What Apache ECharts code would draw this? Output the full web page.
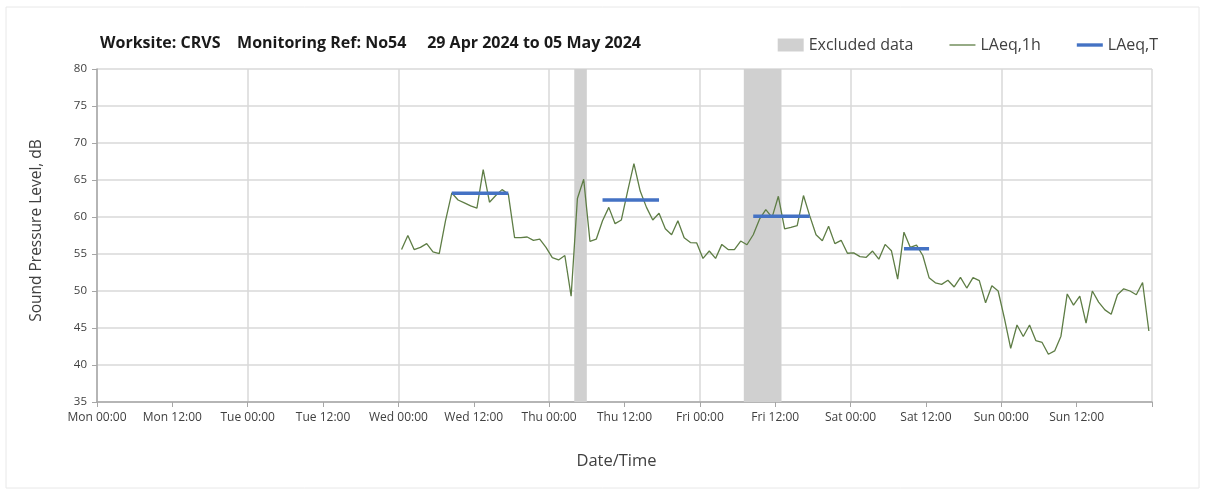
<!DOCTYPE html>
<html lang="en">
<head>
    <meta charset="UTF-8">
    <title>Noise monitoring</title>
    <style>
        html, body { margin: 0; padding: 0; background: #fff; }
        #chart { width: 1205px; height: 492px; }
    </style>
</head>
<body>
<div id="chart"></div>
<script src="https://cdn.jsdelivr.net/npm/echarts@6/dist/echarts.min.js"></script>
<script>
    // hours from Mon 00:00, one tick label every 12 h
    var tickLabels = ['Mon 00:00', 'Mon 12:00', 'Tue 00:00', 'Tue 12:00', 'Wed 00:00', 'Wed 12:00',
        'Thu 00:00', 'Thu 12:00', 'Fri 00:00', 'Fri 12:00', 'Sat 00:00', 'Sat 12:00',
        'Sun 00:00', 'Sun 12:00', ''];

    // LAeq,1h - hourly values, first one centred on Wed 00:30
    var firstHour = 48.5;
    var laeq1h = [
        55.6, 57.5, 55.6, 55.9, 56.4, 55.3, 55.05, 59.5, 63.25, 62.3,
        61.9, 61.5, 61.2, 66.4, 62.0, 62.9, 63.7, 63.1, 57.2, 57.2,
        57.3, 56.85, 57.0, 55.9, 54.5, 54.2, 54.8, 49.3, 62.5, 65.1,
        56.7, 57.0, 59.5, 61.3, 59.1, 59.6, 63.5, 67.2, 63.5, 61.3,
        59.6, 60.5, 58.4, 57.6, 59.5, 57.2, 56.55, 56.5, 54.4, 55.4,
        54.4, 56.3, 55.6, 55.6, 56.75, 56.25, 57.6, 59.7, 61.0, 59.95,
        62.8, 58.4, 58.6, 58.85, 62.9, 60.15, 57.6, 56.8, 58.75, 56.4,
        56.85, 55.1, 55.15, 54.65, 54.55, 55.4, 54.3, 56.3, 55.45, 51.6,
        57.95, 55.9, 56.2, 54.8, 51.8, 51.1, 50.9, 51.45, 50.55, 51.85,
        50.4, 51.8, 51.4, 48.4, 50.7, 50.0, 46.3, 42.25, 45.4, 43.85,
        45.4, 43.3, 43.05, 41.45, 41.9, 43.9, 49.6, 48.1, 49.3, 45.65,
        50.0, 48.5, 47.45, 46.85, 49.5, 50.3, 50.0, 49.5, 51.15, 44.6
    ];

    // LAeq,T periods
    var periodStart = [56.5, 80.5, 104.5, 128.5];
    var periodEnd = [65.5, 89.5, 113.5, 132.5];
    var periodLevel = [63.2, 62.3, 60.1, 55.7];

    // excluded data bands (hours)
    var excludedStart = [76, 103];
    var excludedEnd = [78, 109];

    var lineData = [];
    for (var i = 0; i < laeq1h.length; i++) {
        lineData.push([firstHour + i, laeq1h[i]]);
    }
    var periodData = [];
    for (var j = 0; j < periodStart.length; j++) {
        periodData.push([periodStart[j], periodLevel[j]]);
        periodData.push([periodEnd[j], periodLevel[j]]);
        periodData.push([periodEnd[j], '-']);
    }
    var bands = [];
    for (var k = 0; k < excludedStart.length; k++) {
        bands.push([{xAxis: excludedStart[k]}, {xAxis: excludedEnd[k]}]);
    }

    // legend line icons: stripe inside a 200x100 box (the moveTo corners keep the box 2:1)
    var thinIcon = 'path://M0,0 M200,100 M0,45 L200,45 L200,55 L0,55 Z';
    var thickIcon = 'path://M0,0 M200,100 M0,37 L200,37 L200,63 L0,63 Z';

    var font = 'Open Sans, Noto Sans, sans-serif';
    var chart = echarts.init(document.getElementById('chart'));
    chart.setOption({
        animation: false,
        textStyle: {fontFamily: font},
        graphic: [{
            type: 'rect',
            shape: {x: 6, y: 7, width: 1193, height: 481},
            style: {fill: 'none', stroke: '#e8e8e8', lineWidth: 1},
            silent: true
        }],
        title: {
            text: 'Worksite: CRVS    Monitoring Ref: No54     29 Apr 2024 to 05 May 2024',
            left: 95,
            top: 30,
            textStyle: {fontSize: 16, fontWeight: 'bold', color: '#1a1a1a', fontFamily: font}
        },
        legend: {
            right: 42,
            top: 32,
            itemGap: 36,
            itemWidth: 26,
            itemHeight: 13,
            textStyle: {fontSize: 16, color: '#404040'},
            data: [
                {name: 'Excluded data', icon: 'rect'},
                {name: 'LAeq,1h', icon: thinIcon},
                {name: 'LAeq,T', icon: thickIcon}
            ]
        },
        grid: {left: 97, right: 53, top: 69, bottom: 90},
        xAxis: [{
            type: 'value',
            min: 0,
            max: 168,
            interval: 12,
            name: 'Date/Time',
            nameLocation: 'middle',
            nameGap: 51,
            nameTextStyle: {fontSize: 16.5, color: '#404040', padding: [0, 16, 0, 0]},
            axisLine: {lineStyle: {color: '#a6a6a6', width: 1.5}},
            axisTick: {show: true, length: 5, lineStyle: {color: '#a6a6a6'}},
            axisLabel: {
                fontSize: 12,
                color: '#404040',
                margin: 10,
                formatter: function (v) {
                    return tickLabels[Math.round(v / 12)] || '';
                }
            },
            splitLine: {show: false}
        }, {
            type: 'value',
            min: 0,
            max: 168,
            interval: 24,
            position: 'bottom',
            axisLine: {show: false},
            axisTick: {show: false},
            axisLabel: {show: false},
            splitLine: {show: true, lineStyle: {color: '#d9d9d9', width: 1.5}}
        }],
        yAxis: {
            type: 'value',
            min: 35,
            max: 80,
            interval: 5,
            name: 'Sound Pressure Level, dB',
            nameLocation: 'middle',
            nameGap: 52,
            nameTextStyle: {fontSize: 15.5, color: '#404040', padding: [0, 0, 0, 10]},
            axisLine: {show: true, lineStyle: {color: '#a6a6a6', width: 1.5}},
            axisTick: {show: true, length: 5, lineStyle: {color: '#a6a6a6'}},
            axisLabel: {fontSize: 11.5, color: '#404040', margin: 10},
            splitLine: {lineStyle: {color: '#d9d9d9', width: 1.5}}
        },
        series: [{
            name: 'Excluded data',
            type: 'line',
            data: [],
            z: 1,
            itemStyle: {color: '#d0d0d0'},
            markArea: {
                silent: true,
                itemStyle: {color: '#d0d0d0', opacity: 1},
                data: bands
            }
        }, {
            name: 'LAeq,1h',
            type: 'line',
            data: lineData,
            symbol: 'none',
            z: 3,
            itemStyle: {color: '#5e7d45'},
            lineStyle: {color: '#5e7d45', width: 1.3}
        }, {
            name: 'LAeq,T',
            type: 'line',
            data: periodData,
            symbol: 'none',
            connectNulls: false,
            z: 4,
            itemStyle: {color: '#4472c4'},
            lineStyle: {color: '#4472c4', width: 3.5}
        }]
    });
</script>
</body>
</html>
